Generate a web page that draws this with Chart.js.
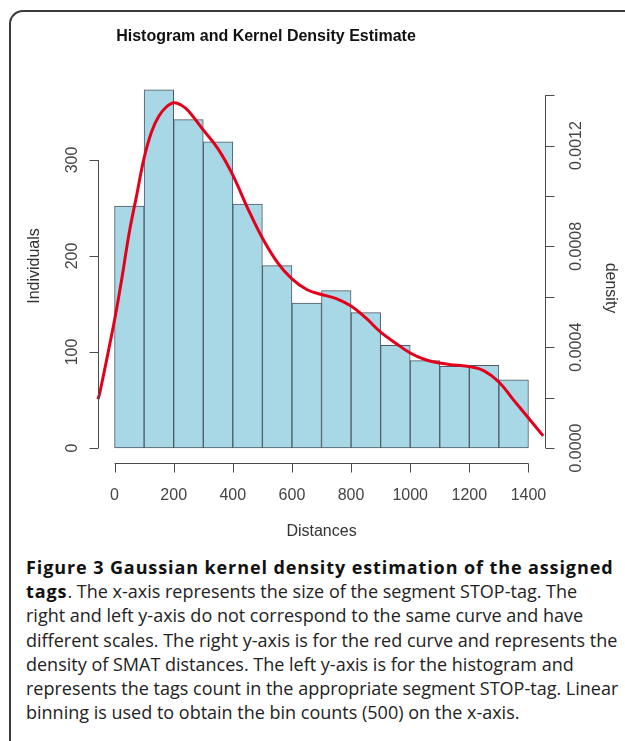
<!DOCTYPE html>
<html>
<head>
<meta charset="utf-8">
<script src="https://cdn.jsdelivr.net/npm/chart.js@4.4.1/dist/chart.umd.min.js"></script>
<style>
  html, body { margin: 0; padding: 0; background: #fff; overflow: hidden; }
  body { width: 625px; height: 741px; position: relative; }
  #frame {
    position: absolute; left: 9px; top: 10px; width: 640px; height: 760px;
    border-left: 2px solid #3a3a3a; border-top: 2px solid #3a3a3a;
    border-top-left-radius: 14px; box-sizing: border-box;
  }
  #wrap { position: absolute; left: 0; top: 0; width: 625px; height: 550px; }
  #caption {
    position: absolute; left: 26px; top: 555px; width: 600px;
    font-family: "Open Sans", sans-serif; font-size: 18px; line-height: 24.2px;
    color: #222; white-space: nowrap;
  }
  #caption b { font-weight: 700; color: #111; letter-spacing: 0.9px; }
</style>
</head>
<body>
<div id="frame"></div>
<div id="wrap"><canvas id="chart" width="625" height="550"></canvas></div>
<div id="caption">
<b>Figure 3 Gaussian kernel density estimation of the assigned</b><br>
<b>tags</b>. The x-axis represents the size of the segment STOP-tag. The<br>
right and left y-axis do not correspond to the same curve and have<br>
different scales. The right y-axis is for the red curve and represents the<br>
density of SMAT distances. The left y-axis is for the histogram and<br>
represents the tags count in the appropriate segment STOP-tag. Linear<br>
binning is used to obtain the bin counts (500) on the x-axis.
</div>
<script>
// ---------------- data ----------------
const binCenters = [50, 150, 250, 350, 450, 550, 650, 750, 850, 950, 1050, 1150, 1250, 1350];
const counts = [252, 373, 342, 319, 254, 190, 151, 164, 141, 107, 91, 85, 86, 71];

const kdeX = [-56, -50, 0, 25, 50, 75, 100, 125, 150, 175, 200, 225, 250, 300, 350, 400, 450, 500,
  550, 600, 650, 700, 750, 800, 850, 900, 950, 1000, 1050, 1100, 1150, 1200, 1250, 1300, 1350, 1400, 1450];
const kdeY = [0.000194, 0.000218, 0.000508, 0.000675, 0.000857, 0.001004, 0.001151, 0.001254, 0.001317,
  0.001353, 0.00137, 0.001361, 0.001337, 0.001262, 0.001187, 0.001083, 0.000952, 0.000833,
  0.000738, 0.000671, 0.000629, 0.000609, 0.000593, 0.000563, 0.000516, 0.00046, 0.000417, 0.000377,
  0.000351, 0.000337, 0.000329, 0.000323, 0.000306, 0.000262, 0.00019, 0.000119, 0.000048];

const xTicks = [0, 200, 400, 600, 800, 1000, 1200, 1400];
const leftTicks = [0, 100, 200, 300];
const rightTicks = [0, 0.0002, 0.0004, 0.0006, 0.0008, 0.001, 0.0012, 0.0014];
const rightLabels = ['0.0000', '', '0.0004', '', '0.0008', '', '0.0012', ''];

// ------------- R style axes -------------
const FONT = '16px "Liberation Sans", Arial, sans-serif';
const AXIS = '#4a4a4a';

const rAxes = {
  id: 'rAxes',
  afterDraw(chart) {
    const { ctx, chartArea: a, scales } = chart;
    const x = scales.x, yl = scales.y, yr = scales.y2;
    ctx.save();
    ctx.strokeStyle = AXIS;
    ctx.lineWidth = 1;
    ctx.fillStyle = '#444';
    ctx.font = FONT;

    // bottom axis
    const by = Math.round(a.bottom) + 0.5;
    ctx.beginPath();
    ctx.moveTo(x.getPixelForValue(xTicks[0]), by);
    ctx.lineTo(x.getPixelForValue(xTicks[xTicks.length - 1]), by);
    xTicks.forEach(t => {
      const px = Math.round(x.getPixelForValue(t)) + 0.5;
      ctx.moveTo(px, by); ctx.lineTo(px, by + 9);
    });
    ctx.stroke();
    ctx.textAlign = 'center'; ctx.textBaseline = 'middle';
    xTicks.forEach(t => ctx.fillText(String(t), x.getPixelForValue(t), by + 32));

    // left axis
    const lx = Math.round(a.left) + 0.5;
    ctx.beginPath();
    ctx.moveTo(lx, yl.getPixelForValue(leftTicks[0]));
    ctx.lineTo(lx, yl.getPixelForValue(leftTicks[leftTicks.length - 1]));
    leftTicks.forEach(t => {
      const py = Math.round(yl.getPixelForValue(t)) + 0.5;
      ctx.moveTo(lx, py); ctx.lineTo(lx - 9, py);
    });
    ctx.stroke();
    leftTicks.forEach(t => {
      ctx.save();
      ctx.translate(lx - 26, yl.getPixelForValue(t));
      ctx.rotate(-Math.PI / 2);
      ctx.fillText(String(t), 0, 0);
      ctx.restore();
    });

    // right axis
    const rx = Math.round(a.right) + 0.5;
    ctx.beginPath();
    ctx.moveTo(rx, yr.getPixelForValue(rightTicks[0]));
    ctx.lineTo(rx, yr.getPixelForValue(rightTicks[rightTicks.length - 1]));
    rightTicks.forEach(t => {
      const py = Math.round(yr.getPixelForValue(t)) + 0.5;
      ctx.moveTo(rx, py); ctx.lineTo(rx + 9, py);
    });
    ctx.stroke();
    rightTicks.forEach((t, i) => {
      if (!rightLabels[i]) return;
      ctx.save();
      ctx.translate(rx + 31, yr.getPixelForValue(t));
      ctx.rotate(-Math.PI / 2);
      ctx.fillText(rightLabels[i], 0, 0);
      ctx.restore();
    });

    // axis titles
    ctx.fillStyle = '#333';
    ctx.fillText('Distances', (a.left + a.right) / 2, 532);
    ctx.save();
    ctx.translate(35, 266);
    ctx.rotate(-Math.PI / 2);
    ctx.fillText('Individuals', 0, 0);
    ctx.restore();
    ctx.save();
    ctx.translate(610, 288);
    ctx.rotate(Math.PI / 2);
    ctx.fillText('density', 0, 0);
    ctx.restore();

    // title
    ctx.fillStyle = '#111';
    ctx.font = 'bold 16px "Liberation Sans", Arial, sans-serif';
    ctx.fillText('Histogram and Kernel Density Estimate', 266, 37);
    ctx.restore();
  }
};

new Chart(document.getElementById('chart'), {
  type: 'bar',
  data: {
    datasets: [
      {
        type: 'line',
        label: 'density',
        data: kdeX.map((v, i) => ({ x: v, y: kdeY[i] })),
        yAxisID: 'y2',
        borderColor: '#e3001b',
        borderWidth: 3,
        pointRadius: 0,
        tension: 0.4,
        fill: false,
        clip: false,
        order: 0
      },
      {
        label: 'Individuals',
        data: binCenters.map((v, i) => ({ x: v, y: counts[i] })),
        yAxisID: 'y',
        backgroundColor: '#a8d8e6',
        borderColor: '#4d5a64',
        borderWidth: 1,
        borderSkipped: false,
        barPercentage: 1,
        categoryPercentage: 1,
        order: 1
      }
    ]
  },
  options: {
    responsive: false,
    animation: false,
    layout: { padding: { left: 98, right: 80, top: 75, bottom: 87 } },
    plugins: { legend: { display: false }, tooltip: { enabled: false }, title: { display: false } },
    scales: {
      x: { type: 'linear', offset: false, min: -56, max: 1456, display: false },
      y: { type: 'linear', min: -15.6, max: 388.5, display: false },
      y2: { type: 'linear', position: 'right', min: -0.0000595, max: 0.00148, display: false }
    }
  },
  plugins: [rAxes]
});
</script>
</body>
</html>
